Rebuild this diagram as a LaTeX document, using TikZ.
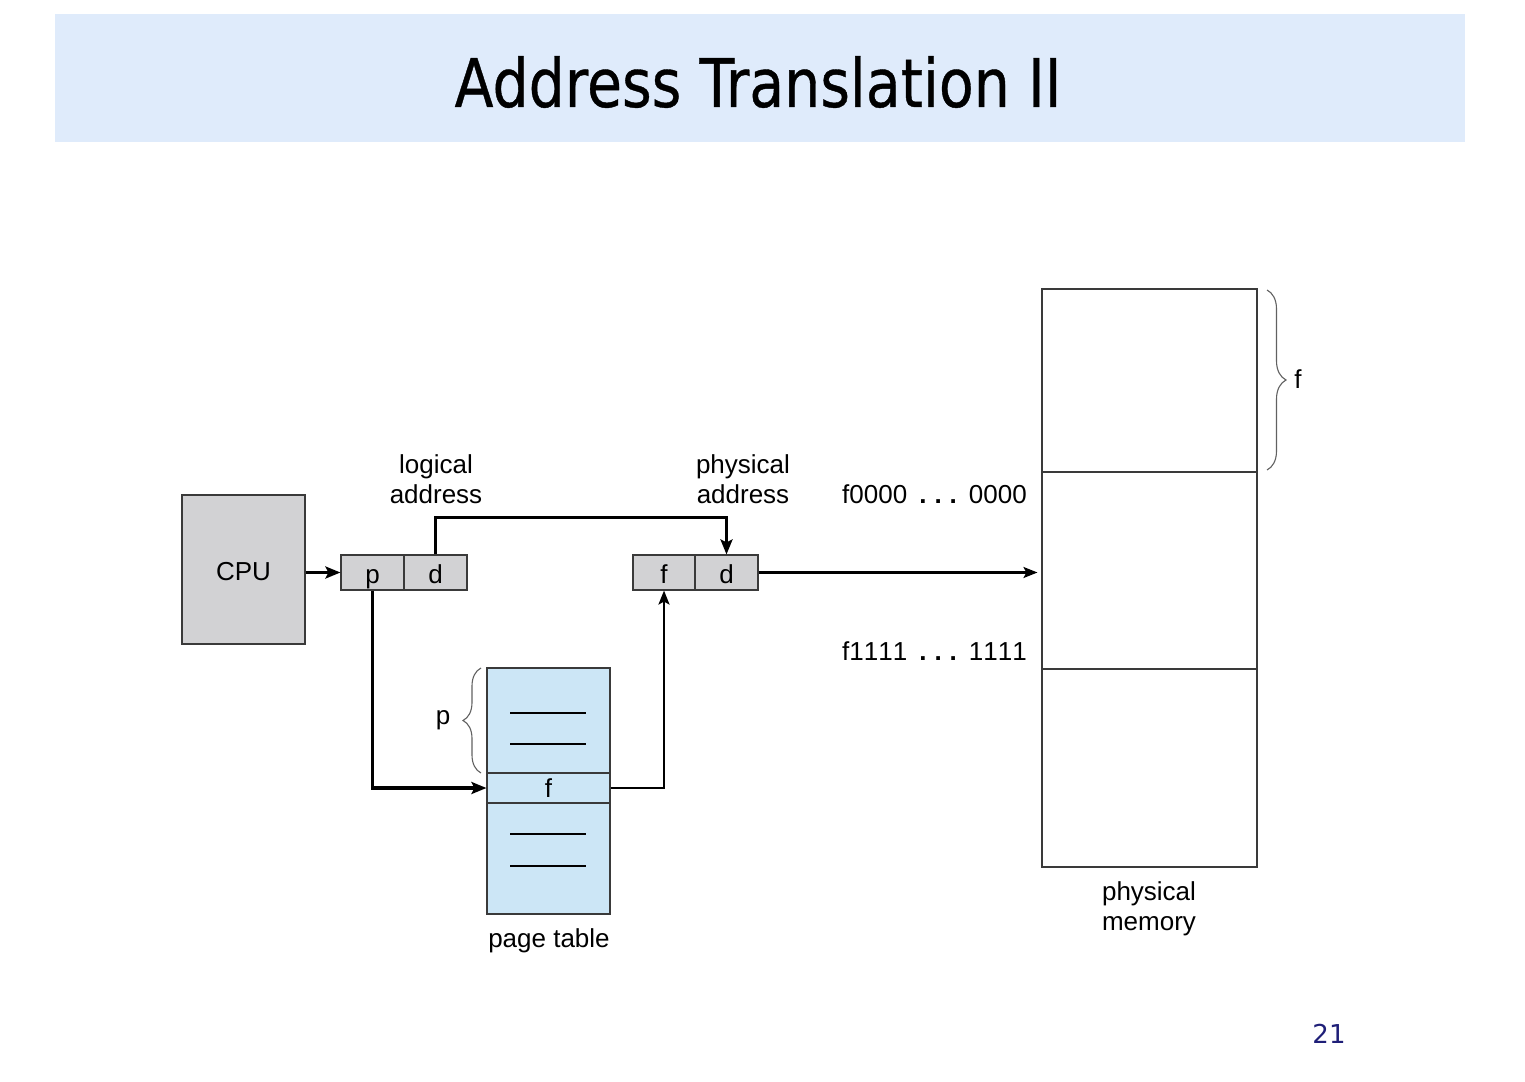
\documentclass[tikz,border=0pt]{standalone}
\usepackage{fontspec}
\setmainfont{Liberation Sans}
\newfontfamily\titlefont[FakeBold=0.6]{DejaVu Sans}
\newfontfamily\numfont{DejaVu Sans}
\usetikzlibrary{arrows.meta,decorations.pathreplacing,calc}
\definecolor{bandblue}{HTML}{DFEBFB}
\definecolor{boxgray}{HTML}{D2D2D4}
\definecolor{tableblue}{HTML}{CCE6F6}
\definecolor{edgegray}{HTML}{3A3A3A}
\definecolor{navy}{RGB}{31,31,120}
\newcommand{\mydots}{\hspace{12pt}\textbf{.\hspace{8pt}.\hspace{8pt}.}\hspace{12pt}}
\tikzset{
  boxstyle/.style={draw=edgegray,line width=1.1pt,inner sep=0pt,font=\fontsize{26}{30}\selectfont,text height=21pt,text depth=0pt},
  regcell/.style={boxstyle,fill=boxgray,minimum height=35pt},
  tcell/.style={boxstyle,fill=tableblue,minimum width=123pt},
  memcell/.style={boxstyle,fill=white,minimum width=215pt},
  lbl/.style={font=\fontsize{26}{30}\selectfont,align=center,inner sep=0pt},
  thickarrow/.style={line width=3.2pt,-{Stealth[length=15pt,width=12pt,inset=3pt]}},
  thinarrow/.style={line width=2.2pt,-{Stealth[length=14pt,width=11pt,inset=3pt]}},
  bracestyle/.style={draw=edgegray!80,line width=1.1pt,decorate},
  tline/.style={draw=black,line width=1.1pt}
}
\begin{document}
\begin{tikzpicture}[x=1pt,y=-1pt]
\useasboundingbox[fill=white] (0,0) rectangle (1525,1081);
% title band
\node[fill=bandblue,minimum width=1410pt,minimum height=128pt,inner sep=0pt] (band) at (760,78) {};
\node[font=\titlefont\fontsize{67}{70}\selectfont,inner sep=0pt] (title) at (758,82) {\scalebox{0.85}[1]{Address Translation II}};
% CPU
\node[boxstyle,fill=boxgray,minimum width=123pt,minimum height=149pt] (cpu) at (243.5,569.5) {CPU};
% logical address register
\node[regcell,minimum width=63pt] (pcell) at (372.5,572.5) {p};
\node[regcell,minimum width=63pt] (dcell) at (435.5,572.5) {d};
% physical address register
\node[regcell,minimum width=62pt] (fcell) at (664,572.5) {f};
\node[regcell,minimum width=63pt] (d2cell) at (726.5,572.5) {d};
% page table
\node[tcell,minimum height=105pt] (ptop) at (548.5,720.5) {};
\node[tcell,minimum height=30pt,text height=19pt] (prow) at (548.5,788) {f};
\node[tcell,minimum height=111pt] (pbot) at (548.5,858.5) {};
\draw[tline] (510,713) -- (586,713);
\draw[tline] (510,744) -- (586,744);
\draw[tline] (510,834) -- (586,834);
\draw[tline] (510,866) -- (586,866);
% physical memory
\node[memcell,minimum height=183pt] (mem1) at (1149.5,380.5) {};
\node[memcell,minimum height=197pt] (mem2) at (1149.5,570.5) {};
\node[memcell,minimum height=198pt] (mem3) at (1149.5,768) {};
% braces
\coordinate (pb1) at (481,773);
\coordinate (pb2) at (481,668);
\draw[bracestyle,decoration={brace,amplitude=18pt,aspect=0.5}] (pb1) -- (pb2);
\coordinate (fb1) at (1267,290);
\coordinate (fb2) at (1267,470);
\draw[bracestyle,decoration={brace,amplitude=19pt}] (fb1) -- (fb2);
% labels
\node[lbl] (plbl) at (443,720) {p};
\node[lbl] (flbl) at (1298,379) {f};
\node[lbl] (logl) at (436,479) {logical\\address};
\node[lbl] (physl) at (743,479) {physical\\address};
\node[lbl,anchor=east] (f0) at (1027,494) {f0000\mydots 0000};
\node[lbl,anchor=east] (f1) at (1027,651) {\addfontfeature{Kerning=Off}f1111\mydots 1111};
\node[lbl] (pml) at (1149,909) {physical\\memory};
\node[lbl] (ptl) at (549,941) {page table};
\node[font=\numfont\fontsize{26}{30}\selectfont,text=navy,inner sep=0pt] (pnum) at (1329,1034) {21};
% connectors
\draw[thickarrow] (pcell.west -| cpu.east) -- (pcell.west);
\draw[thickarrow] (dcell.north) -- ++(0,-37) -| (d2cell.north);
\draw[thickarrow] (pcell.south) |- (prow.west);
\draw[thinarrow] (prow.east) -| (fcell.south);
\draw[thinarrow,shorten >=4pt] (d2cell.east) -- (d2cell.east -| mem2.west);
\end{tikzpicture}
\end{document}
